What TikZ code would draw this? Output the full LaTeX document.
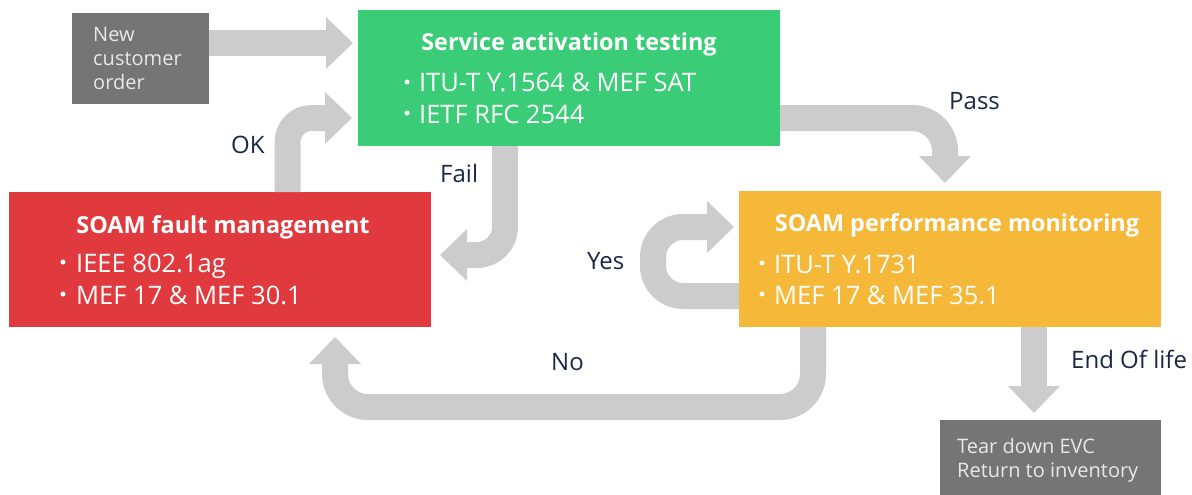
\documentclass[tikz,border=0pt]{standalone}
\usepackage{fontspec}
\setmainfont{Open Sans}
\usetikzlibrary{calc}

\definecolor{satgreen}{HTML}{3ACC76}
\definecolor{fmred}{HTML}{E03A3E}
\definecolor{pmorange}{HTML}{F5B838}
\definecolor{stepgray}{HTML}{757575}
\definecolor{flowgray}{HTML}{CCCCCC}
\definecolor{labelnavy}{HTML}{1B2748}
\definecolor{paletext}{HTML}{E8E8E8}

\tikzset{
  box/.style={anchor=north west, inner sep=0pt, outer sep=0pt, draw=none},
  boxtitle/.style={anchor=base, inner sep=0pt, text=white,
    font=\fontsize{23.4}{28}\selectfont\bfseries},
  item/.style={anchor=base west, inner sep=0pt, text=white,
    font=\fontsize{25.5}{30}\selectfont},
  dot/.style={circle, fill=white, inner sep=0pt, minimum size=5pt},
  steptext/.style={anchor=base west, inner sep=0pt, text=paletext,
    font=\fontsize{20}{24}\selectfont},
  flowlabel/.style={anchor=base west, inner sep=0pt, text=labelnavy,
    font=\fontsize{24}{28}\selectfont},
  flow/.style={draw=flowgray, line width=26pt, line cap=butt},
  headright/.pic={\fill[flowgray] (0,0) -- (-27,-26) -- (-27,26) -- cycle;},
  headleft/.pic={\fill[flowgray] (0,0) -- (27,-26) -- (27,26) -- cycle;},
  headdown/.pic={\fill[flowgray] (0,0) -- (-26,-27) -- (26,-27) -- cycle;},
  headup/.pic={\fill[flowgray] (0,0) -- (-26,27) -- (26,27) -- cycle;},
}

\begin{document}
\begin{tikzpicture}[x=1pt, y=-1pt]
\useasboundingbox (0,0) rectangle (1192,495);

% ---------- blocks ----------
\node[box, fill=stepgray, minimum width=137pt, minimum height=91pt] (order) at (72,13) {};
\node[box, fill=satgreen, minimum width=422pt, minimum height=136pt] (sat) at (358,10) {};
\node[box, fill=fmred, minimum width=422pt, minimum height=135pt] (fm) at (9,192) {};
\node[box, fill=pmorange, minimum width=422pt, minimum height=136pt] (pm) at (739,191) {};
\node[box, fill=stepgray, minimum width=221pt, minimum height=75pt] (tear) at (940,420) {};

% ---------- block texts ----------
\node[steptext] (order-1) at (93,42) {New};
\node[steptext] (order-2) at (93,66) {customer};
\node[steptext] (order-3) at (93,90) {order};

\node[boxtitle] (sat-t) at (569,51) {Service activation testing};
\node[dot] (sat-d1) at (407,82) {};
\node[item] (sat-1) at (419,92) {ITU-T Y.1564 \& MEF SAT};
\node[dot] (sat-d2) at (407,113) {};
\node[item] (sat-2) at (419,123) {IETF RFC 2544};

\node[boxtitle] (fm-t) at (223,233) {SOAM fault management};
\node[dot] (fm-d1) at (63,262) {};
\node[item] (fm-1) at (76,272) {IEEE 802.1ag};
\node[dot] (fm-d2) at (63,294) {};
\node[item] (fm-2) at (76,304) {MEF 17 \& MEF 30.1};

\node[boxtitle] (pm-t) at (957,231) {SOAM performance monitoring};
\node[dot] (pm-d1) at (762,263) {};
\node[item] (pm-1) at (774,273) {ITU-T Y.1731};
\node[dot] (pm-d2) at (762,294) {};
\node[item] (pm-2) at (774,304) {MEF 17 \& MEF 35.1};

\node[steptext] (tear-1) at (957,453) {Tear down EVC};
\node[steptext] (tear-2) at (957,477) {Return to inventory};

% ---------- flow arrows ----------
% new order -> activation testing
\coordinate (ordTip) at (353,43);
\draw[flow] (ordTip -| order.east) -- ([xshift=-26pt]ordTip);
\pic at (ordTip) {headright};

% fault management -> activation testing (OK)
\coordinate (okBend) at (287.5,118);
\coordinate (okTip) at (352,118);
\draw[flow, rounded corners=24pt] (okBend |- fm.north) -- (okBend) -- ([xshift=-26pt]okTip);
\pic at (okTip) {headright};

% activation testing -> fault management (Fail)
\coordinate (failBend) at (505,255);
\coordinate (failTip) at (440,255);
\draw[flow, rounded corners=28pt] (failBend |- sat.south) -- (failBend) -- ([xshift=26pt]failTip);
\pic at (failTip) {headleft};

% activation testing -> performance monitoring (Pass)
\coordinate (passBend) at (945,118);
\coordinate (passTip) at (945,183);
\draw[flow, rounded corners=33pt] (passBend -| sat.east) -- (passBend) -- ([yshift=26pt]passTip);
\pic at (passTip) {headdown};

% performance monitoring loop (Yes)
\coordinate (yesLow) at (653,296);
\coordinate (yesHigh) at (653,227);
\coordinate (yesTip) at (734,227);
\draw[flow, rounded corners=30pt] (yesLow -| pm.west) -- (yesLow) -- (yesHigh) -- ([xshift=-26pt]yesTip);
\pic at (yesTip) {headright};

% performance monitoring -> fault management (No)
\coordinate (noRight) at (813,407);
\coordinate (noLeft) at (335,407);
\coordinate (noTip) at (335,337);
\draw[flow, rounded corners=33pt] (noRight |- pm.south) -- (noRight) -- (noLeft) -- ([yshift=-26pt]noTip);
\pic at (noTip) {headup};

% performance monitoring -> tear down (End Of life)
\coordinate (endTip) at (1034,413);
\draw[flow] (endTip |- pm.south) -- ([yshift=26pt]endTip);
\pic at (endTip) {headdown};

% ---------- arrow labels ----------
\node[flowlabel] (lbl-ok) at (231,153) {OK};
\node[flowlabel] (lbl-fail) at (440,182) {Fail};
\node[flowlabel] (lbl-pass) at (949,110) {Pass};
\node[flowlabel] (lbl-yes) at (587,269) {Yes};
\node[flowlabel] (lbl-no) at (551,370) {No};
\node[flowlabel] (lbl-end) at (1071,368) {End Of life};
\end{tikzpicture}
\end{document}
